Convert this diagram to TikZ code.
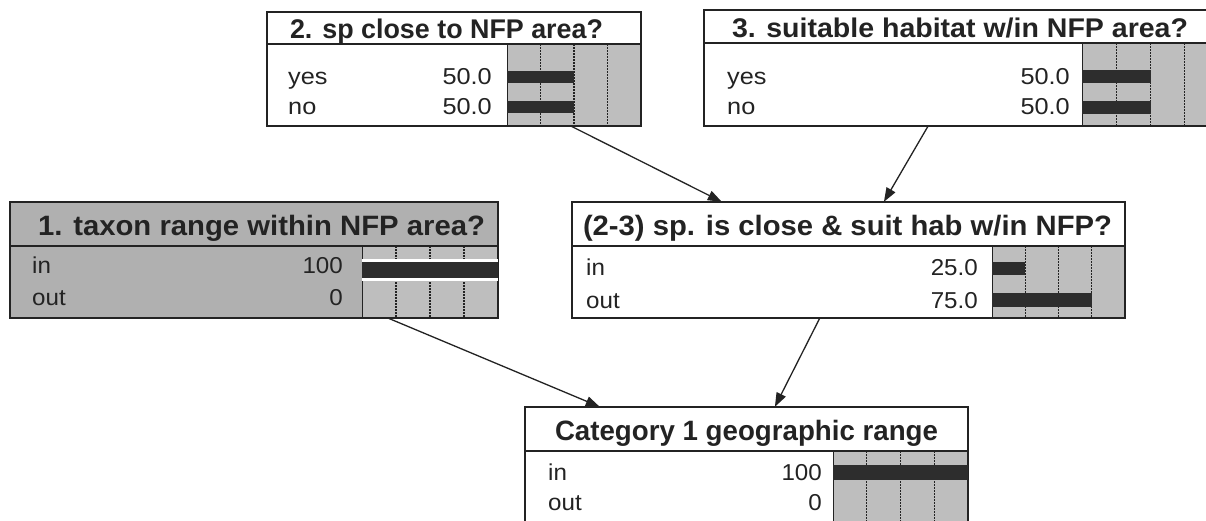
\documentclass[tikz,border=0pt]{standalone}
\usepackage{fontspec}
\setmainfont{Liberation Sans}
\usetikzlibrary{arrows.meta,calc,fit}

\definecolor{ink}{RGB}{35,35,35}
\definecolor{bargray}{RGB}{190,190,190}
\definecolor{boxgray}{RGB}{176,176,176}
\definecolor{bardark}{RGB}{45,45,45}

% horizontal fit of a text to a given width (in pt)
\newlength\bnwd
\newcommand\fitto[2]{\settowidth\bnwd{#2}\pgfmathsetmacro\bnsx{#1/\bnwd}\scalebox{\bnsx}[1]{#2}}
\newcommand\tw[1]{\scalebox{1.1}[1]{#1}}
\newcommand\bw[1]{\scalebox{1.05}[1]{#1}}

\tikzset{
  frame/.style={draw=ink, line width=2pt},
  gridln/.style={draw=ink, line width=1.3pt, dash pattern=on 1.5pt off 1.5pt},
  titletop/.style={font=\bfseries\fontsize{27}{27}\selectfont, text=ink, inner sep=0pt, anchor=base},
  titlebot/.style={font=\bfseries\fontsize{28}{28}\selectfont, text=ink, inner sep=0pt, anchor=base},
  bodytop/.style={font=\fontsize{23}{23}\selectfont, text=ink, inner sep=0pt},
  bodybot/.style={font=\fontsize{23}{23}\selectfont, text=ink, inner sep=0pt},
  arr/.style={draw=ink, line width=1.3pt, -{Triangle[length=14pt,width=10pt]}},
}

% belief box: name, x1, y1, x2, ysep, y2, xbar, fill
\newcommand\bnbox[8]{%
  \coordinate (#1-nw) at (#2,#3);
  \coordinate (#1-se) at (#4,#6);
  \node[fit=(#1-nw)(#1-se), inner sep=0pt, fill=#8] (#1) {};
  \fill[bargray] (#7,#5) rectangle (#4,#6);
  \foreach \k in {1,2,3} {\draw[gridln] ({#7+\k*(#4-#7)/4},#5) -- ({#7+\k*(#4-#7)/4},#6);}
  \draw[ink, line width=1pt] (#7,#5) -- (#7,#6);
  \draw[ink, line width=2pt] (#2,#5) -- (#4,#5);
  \draw[frame] (#1.south west) rectangle (#1.north east);
}
% probability bar: xbar, x2, fraction, ytop, ybottom
\newcommand\bnbar[5]{\fill[bardark] (#1,#4) rectangle ({#1+#3*(#2-#1)},#5);}

\begin{document}
\begin{tikzpicture}[x=1pt, y=-1pt]
\useasboundingbox (0,0) rectangle (1206,520);
\fill[white] (0,0) rectangle (1206,520);
\clip (0,0) rectangle (1206,520);

% 2. sp close to NFP area?
\bnbox{close}{267}{12}{641}{44}{126}{507}{white}
\bnbar{507}{641}{0.5}{71}{83}
\bnbar{507}{641}{0.5}{101}{113}
\node[titletop] (close-t) at (446.5,38) {\fitto{313}{2. sp close to NFP area?}};
\node[bodytop, anchor=base west] (close-a) at (288,84) {\tw{yes}};
\node[bodytop, anchor=base east] (close-av) at (492,84) {\tw{50.0}};
\node[bodytop, anchor=base west] (close-b) at (288,114) {\tw{no}};
\node[bodytop, anchor=base east] (close-bv) at (492,114) {\tw{50.0}};

% 3. suitable habitat w/in NFP area?
\bnbox{habitat}{704}{10}{1219}{43}{126}{1082}{white}
\bnbar{1082}{1219}{0.5}{70}{83}
\bnbar{1082}{1219}{0.5}{101}{114}
\node[titletop] (habitat-t) at (960,37) {\fitto{456}{3. suitable habitat w/in NFP area?}};
\node[bodytop, anchor=base west] (habitat-a) at (727,84) {\tw{yes}};
\node[bodytop, anchor=base east] (habitat-av) at (1070,84) {\tw{50.0}};
\node[bodytop, anchor=base west] (habitat-b) at (727,114) {\tw{no}};
\node[bodytop, anchor=base east] (habitat-bv) at (1070,114) {\tw{50.0}};

% 1. taxon range within NFP area?  (evidence node, shaded)
\bnbox{taxon}{10}{202}{498}{246}{318}{362}{boxgray}
\fill[white] (362,259) rectangle (498,262);
\fill[white] (362,278) rectangle (498,281);
\bnbar{362}{498}{1}{262}{278}
\node[titlebot] (taxon-t) at (261.5,235) {\fitto{447}{1. taxon range within NFP area?}};
\node[bodybot, anchor=base west] (taxon-a) at (32,273) {\bw{in}};
\node[bodybot, anchor=base east] (taxon-av) at (343,273) {\bw{100}};
\node[bodybot, anchor=base west] (taxon-b) at (32,305) {\bw{out}};
\node[bodybot, anchor=base east] (taxon-bv) at (343,305) {\bw{0}};

% (2-3) sp. is close & suit hab w/in NFP?
\bnbox{combo}{572}{202}{1125}{246}{318}{992}{white}
\bnbar{992}{1125}{0.25}{262}{275}
\bnbar{992}{1125}{0.75}{293}{307}
\node[titlebot] (combo-t) at (847.5,235) {\fitto{529}{(2-3) sp. is close \& suit hab w/in NFP?}};
\node[bodybot, anchor=base west] (combo-a) at (586,275) {\bw{in}};
\node[bodybot, anchor=base east] (combo-av) at (978,275) {\bw{25.0}};
\node[bodybot, anchor=base west] (combo-b) at (586,308) {\bw{out}};
\node[bodybot, anchor=base east] (combo-bv) at (978,308) {\bw{75.0}};

% Category 1 geographic range
\bnbox{cat}{525}{407}{968}{451}{532}{833}{white}
\bnbar{833}{968}{1}{465}{480}
\node[titlebot] (cat-t) at (746.5,440) {\fitto{383}{Category 1 geographic range}};
\node[bodybot, anchor=base west] (cat-a) at (548,480) {\bw{in}};
\node[bodybot, anchor=base east] (cat-av) at (822,480) {\bw{100}};
\node[bodybot, anchor=base west] (cat-b) at (548,510) {\bw{out}};
\node[bodybot, anchor=base east] (cat-bv) at (822,510) {\bw{0}};

% links
\draw[arr] ($(close.south west)!0.813!(close.south east)$) -- ($(combo.north west)!0.271!(combo.north east)$);
\draw[arr] ($(habitat.south west)!0.435!(habitat.south east)$) -- ($(combo.north west)!0.564!(combo.north east)$);
\draw[arr] ($(taxon.south west)!0.775!(taxon.south east)$) -- ($(cat.north west)!0.169!(cat.north east)$);
\draw[arr] ($(combo.south west)!0.448!(combo.south east)$) -- ($(cat.north west)!0.564!(cat.north east)$);
\end{tikzpicture}
\end{document}
